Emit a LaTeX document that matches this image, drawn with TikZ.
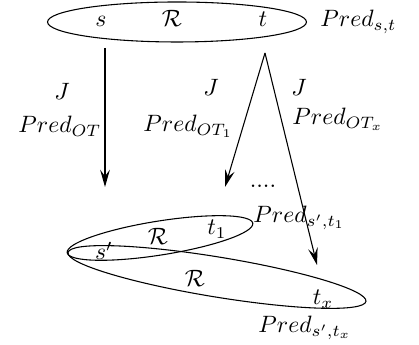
\documentclass[tikz,border=0pt]{standalone}
\usetikzlibrary{shapes.geometric,arrows.meta}
\begin{document}
\begin{tikzpicture}[x=0.465pt,y=0.465pt,
  lbl/.style={inner sep=0pt, scale=1.1, transform shape},
  ell/.style={draw, ellipse, inner sep=0pt, line width=0.5pt},
  arr/.style={line width=0.5pt, -{Stealth[length=8pt,width=4.5pt,inset=3pt]}}]
\useasboundingbox (0,0) rectangle (419,345);
% ellipses
\node[ell, minimum width=120.4pt, minimum height=18.6pt] (E0) at (177,323) {};
\node[ell, minimum width=87.4pt, minimum height=15.8pt, rotate=9] (E1) at (160,107) {};
\node[ell, minimum width=140.4pt, minimum height=18.6pt, rotate=-9.3] (E2) at (217,68) {};
% labels
\node[lbl, anchor=base] (s) at (101,318) {$s$};
\node[lbl, anchor=base] (R0) at (172,318) {$\mathcal{R}$};
\node[lbl, anchor=base] (t) at (263,318) {$t$};
\node[lbl, anchor=base west] (Pst) at (320,318) {$Pred_{s,t}$};
\node[lbl, anchor=base] (J1) at (62,245) {$J$};
\node[lbl, anchor=base west] (POT) at (18,212) {$Pred_{OT}$};
\node[lbl, anchor=base] (J2) at (211,249) {$J$};
\node[lbl, anchor=base west] (POT1) at (143,213) {$Pred_{OT_1}$};
\node[lbl, anchor=base] (J3) at (299,249) {$J$};
\node[lbl, anchor=base west] (POTx) at (292,220) {$Pred_{OT_x}$};
\node[lbl, anchor=base] (dots) at (263,157) {$....$};
\node[lbl, anchor=base west] (Pst1) at (253,122) {$Pred_{s',t_1}$};
\node[lbl, anchor=base] (t1) at (217,110) {$t_1$};
\node[lbl, anchor=base] (R1) at (158,100) {$\mathcal{R}$};
\node[lbl, anchor=base] (sp) at (104,85) {$s'$};
\node[lbl, anchor=base] (R2) at (195,58) {$\mathcal{R}$};
\node[lbl, anchor=base] (tx) at (323,40) {$t_x$};
\node[lbl, anchor=base west] (Pstx) at (258,12) {$Pred_{s',t_x}$};
% arrows
\coordinate (a0s) at (105,297);
\coordinate (a0e) at (105,158);
\coordinate (ap) at (265,292);
\coordinate (a1e) at (225,158);
\coordinate (a2e) at (317,80);
\draw[arr] (a0s) -- (a0e);
\draw[arr] (ap) -- (a1e);
\draw[arr] (ap) -- (a2e);
\end{tikzpicture}
\end{document}
